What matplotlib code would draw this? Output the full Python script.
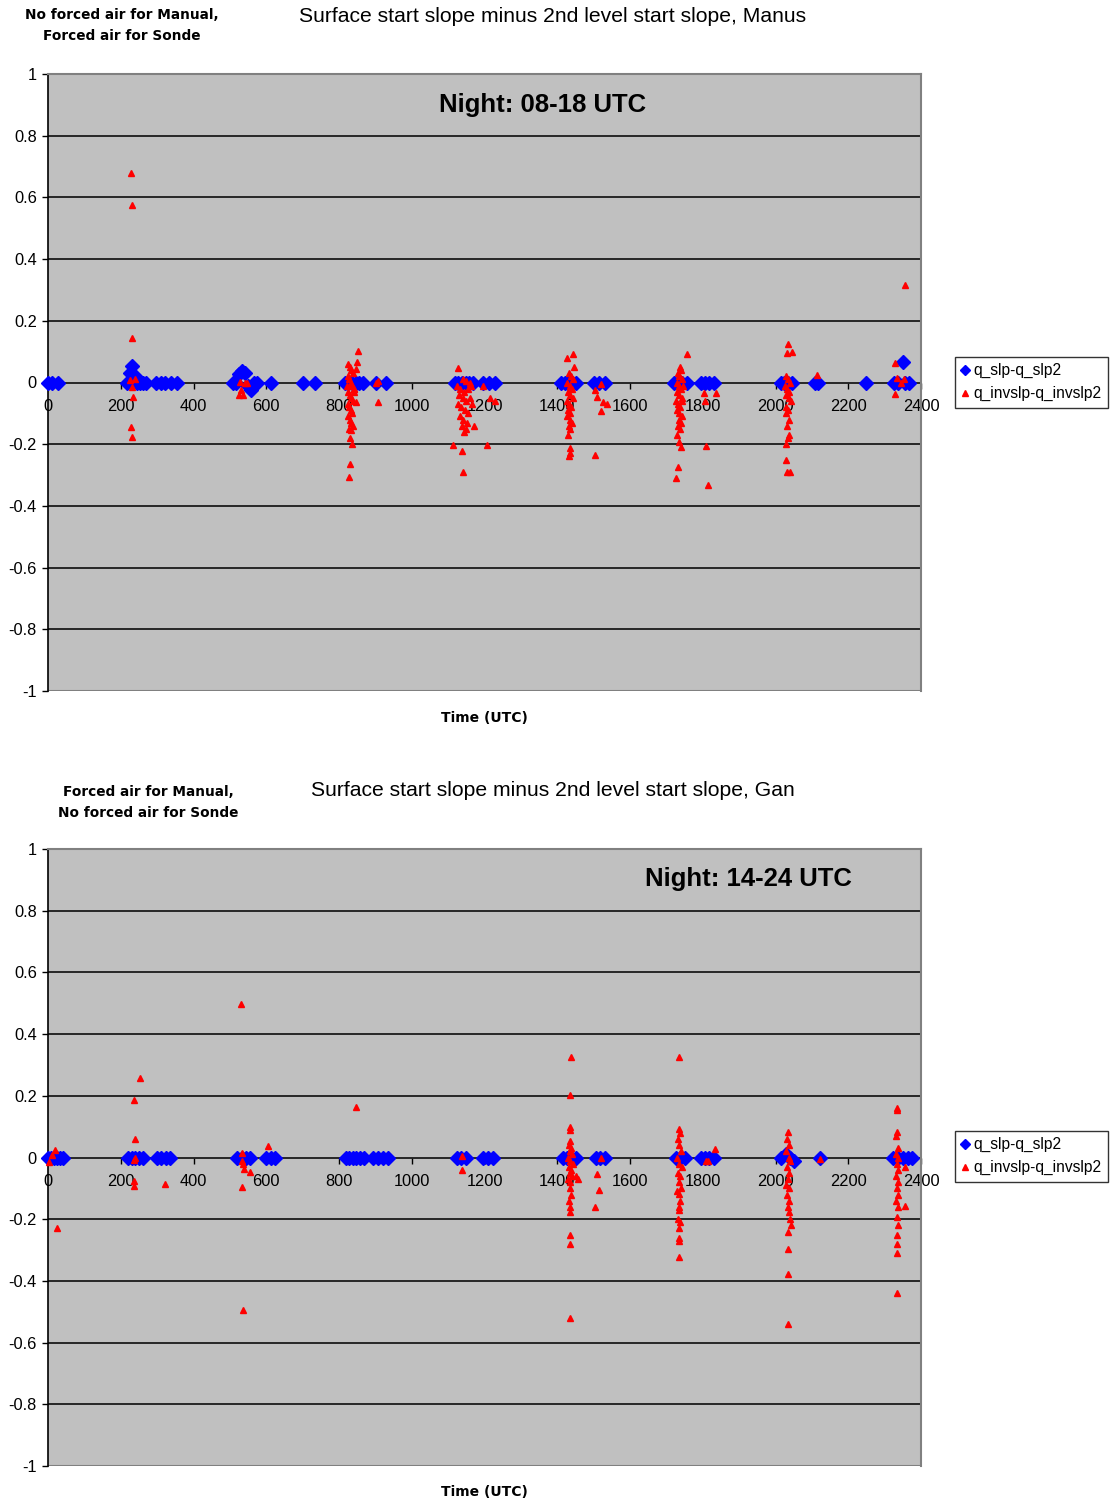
import numpy as np
import matplotlib
matplotlib.use("Agg")
import matplotlib.pyplot as plt
from matplotlib.lines import Line2D

plt.rcParams["font.family"] = ["Liberation Sans", "DejaVu Sans"]

# Manus: q_slp-q_slp2 (blue diamonds)
manus_slp_t = [0, 12, 28,
               218, 226, 232, 238, 246, 254, 262, 270,
               298, 312, 322, 338, 356,
               508, 518, 526, 534, 542, 550, 558, 566, 574,
               612, 700, 734,
               816, 826, 836, 846, 856, 866,
               902, 928,
               1118, 1128, 1138, 1148, 1158, 1168,
               1196, 1212, 1228,
               1410, 1420, 1430, 1440, 1452,
               1500, 1514, 1530,
               1722, 1732, 1744, 1758,
               1796, 1806, 1818, 1832,
               2014, 2024, 2034, 2046,
               2108, 2116, 2250,
               2326, 2338, 2350, 2356, 2368]
manus_slp_v = [0.0, 0.0, 0.0,
               0.0, 0.03, 0.054, 0.02, 0.0, 0.0, 0.0, 0.0,
               0.0, 0.0, 0.0, 0.0, 0.0,
               0.0, 0.0, 0.027, 0.038, 0.03, -0.01, -0.025, 0.0, 0.0,
               0.0, 0.0, 0.0,
               0.0, 0.0, 0.0, 0.0, 0.0, 0.0,
               0.0, 0.0,
               0.0, 0.0, 0.0, 0.0, 0.0, 0.0,
               0.0, 0.0, 0.0,
               0.0, 0.0, 0.0, 0.0, 0.0,
               0.0, 0.0, 0.0,
               0.0, 0.0, 0.0, 0.0,
               0.0, 0.0, 0.0, 0.0,
               0.0, 0.0, 0.0, 0.0,
               0.0, 0.0, 0.0,
               0.0, 0.0, 0.066, 0.0, 0.0]

# Manus: q_invslp-q_invslp2 (red triangles)
manus_inv_t = [228, 230, 232, 226, 240, 231, 233, 229, 231,
               528, 541, 530, 526, 536, 548,
               852, 850, 846, 826, 830, 834, 838, 824, 828, 832, 836, 840,
               822, 826, 830, 834, 838, 842, 824, 828, 832, 836, 840,
               826, 830, 834, 838, 828, 832, 848, 835, 829, 827, 829,
               903, 908, 906,
               1128, 1140, 1150, 1160, 1124, 1134, 1144, 1154, 1164,
               1130, 1140, 1150, 1160, 1126, 1136, 1146, 1156, 1166,
               1132, 1142, 1152, 1138, 1148, 1144, 1170, 1114, 1137, 1140,
               1195, 1206, 1215, 1228,
               1442, 1427, 1446, 1432, 1438, 1444, 1428, 1434, 1440,
               1430, 1436, 1442, 1426, 1432, 1438, 1430, 1436, 1428, 1434,
               1440, 1432, 1436, 1430, 1434, 1432, 1436,
               1503, 1508, 1527, 1536, 1519, 1521, 1504,
               1737, 1757, 1740, 1732, 1736, 1742, 1728, 1734, 1740, 1746,
               1730, 1736, 1742, 1726, 1732, 1738, 1744, 1730, 1736, 1742,
               1734, 1740, 1732, 1738, 1730, 1736, 1740, 1733, 1726,
               1803, 1836, 1808, 1815, 1806,
               2035, 2031, 2046, 2028, 2034, 2040, 2026, 2032, 2038,
               2030, 2036, 2042, 2028, 2034, 2030, 2036, 2032, 2038,
               2030, 2034, 2029, 2031, 2040,
               2113,
               2328, 2334, 2345, 2328, 2352, 2356]
manus_inv_v = [0.679, 0.574, 0.143, 0.008, 0.01, -0.013, -0.047, -0.143, -0.176,
               0.003, -0.002, -0.024, -0.04, -0.042, 0.0,
               0.103, 0.067, 0.045, 0.06, 0.05, 0.04, 0.03, 0.02, 0.01, 0.0, -0.01, -0.02,
               -0.01, -0.03, -0.04, -0.05, -0.06, -0.03, -0.07, -0.08, -0.09, -0.1, -0.02,
               -0.11, -0.12, -0.13, -0.14, -0.15, -0.155, -0.062, -0.2, -0.264, -0.305, -0.18,
               0.0, 0.005, -0.062,
               0.047, 0.01, 0.005, 0.0, -0.01, -0.02, -0.03, -0.02, -0.01,
               -0.04, -0.05, -0.06, -0.05, -0.07, -0.08, -0.09, -0.1, -0.07,
               -0.11, -0.12, -0.13, -0.14, -0.15, -0.16, -0.14, -0.203, -0.221, -0.289,
               -0.01, -0.203, -0.05, -0.06,
               0.091, 0.078, 0.05, 0.03, 0.02, 0.01, 0.0, -0.01, -0.02,
               -0.03, -0.04, -0.05, -0.06, -0.07, -0.08, -0.09, -0.1, -0.11, -0.12,
               -0.13, -0.14, -0.15, -0.17, -0.213, -0.238, -0.23,
               -0.024, -0.046, -0.062, -0.07, -0.091, -0.005, -0.235,
               0.051, 0.091, 0.04, 0.03, 0.02, 0.01, 0.0, -0.01, -0.02, -0.01,
               -0.03, -0.04, -0.05, -0.06, -0.07, -0.08, -0.06, -0.09, -0.1, -0.11,
               -0.12, -0.13, -0.14, -0.15, -0.17, -0.192, -0.21, -0.273, -0.311,
               -0.035, -0.033, -0.206, -0.332, -0.06,
               0.125, 0.095, 0.098, 0.02, 0.01, 0.0, -0.01, -0.02, -0.03,
               -0.04, -0.05, -0.06, -0.08, -0.09, -0.1, -0.12, -0.14, -0.17,
               -0.2, -0.18, -0.251, -0.289, -0.289,
               0.024,
               0.062, 0.014, 0.0, -0.037, 0.01, 0.316]

# Gan: q_slp-q_slp2
gan_slp_t = [0, 8, 16, 24, 32, 42,
             220, 230, 240, 250, 260,
             300, 312, 324, 336,
             520, 532, 544, 556,
             600, 612, 624,
             818, 828, 838, 848, 858, 868,
             894, 908, 922, 936,
             1124, 1136, 1148,
             1196, 1210, 1224,
             1416, 1426, 1438, 1452,
             1506, 1518, 1530,
             1726, 1738, 1750,
             1794, 1806, 1818, 1830,
             2016, 2028, 2040, 2050,
             2122,
             2322, 2336, 2350, 2364, 2376]
gan_slp_v = [0.0, 0.0, 0.0, 0.0, 0.0, 0.0,
             0.0, 0.0, 0.0, 0.0, 0.0,
             0.0, 0.0, 0.0, 0.0,
             0.0, 0.0, 0.0, 0.0,
             0.0, 0.0, 0.0,
             0.0, 0.0, 0.0, 0.0, 0.0, 0.0,
             0.0, 0.0, 0.0, 0.0,
             0.0, 0.0, 0.0,
             0.0, 0.0, 0.0,
             0.0, 0.0, 0.0, 0.0,
             0.0, 0.0, 0.0,
             0.0, 0.0, 0.0,
             0.0, 0.0, 0.0, 0.0,
             0.0, 0.01, 0.0, -0.01,
             0.0,
             0.0, 0.0, 0.0, 0.0, 0.0]

# Gan: q_invslp-q_invslp2
gan_inv_t = [19, 12, 4, 24,
             253, 236, 239, 236, 239, 236, 237,
             322,
             530, 532, 533, 535, 538, 555, 534, 606, 537,
             846,
             1137, 1137,
             1439, 1435, 1435, 1434, 1436, 1432, 1438, 1434, 1440,
             1430, 1436, 1442, 1432, 1438, 1434, 1440, 1430, 1436, 1434, 1438,
             1432, 1436, 1434, 1458, 1452, 1435, 1435, 1436,
             1508, 1515, 1504, 1520,
             1735, 1734, 1738, 1732, 1736, 1740, 1730, 1736, 1742, 1732, 1738,
             1734, 1740, 1730, 1736, 1738, 1734, 1736, 1732, 1738, 1734, 1736,
             1735, 1736,
             1833, 1810, 1815,
             2035, 2032, 2038, 2030, 2036, 2040, 2032, 2038, 2034, 2030, 2036,
             2032, 2038, 2034, 2036, 2040, 2042, 2034, 2035, 2035, 2035,
             2122,
             2333, 2335, 2333, 2331, 2336, 2332, 2338, 2334, 2336, 2330, 2338,
             2334, 2336, 2332, 2338, 2356, 2356, 2334, 2336, 2333, 2335, 2334,
             2335]
gan_inv_v = [0.025, 0.008, -0.015, -0.228,
             0.258, 0.187, 0.06, -0.008, 0.0, -0.077, -0.094,
             -0.085,
             0.498, 0.014, -0.01, -0.02, -0.037, -0.047, -0.096, 0.036, -0.494,
             0.165,
             0.006, -0.04,
             0.327, 0.203, 0.098, 0.088, 0.055, 0.04, 0.03, 0.02, 0.01,
             0.0, -0.01, -0.02, -0.03, -0.04, -0.05, -0.06, -0.07, -0.08, -0.1, -0.12,
             -0.14, -0.16, -0.177, -0.069, -0.06, -0.25, -0.282, -0.52,
             -0.053, -0.105, -0.161, 0.0,
             0.327, 0.093, 0.08, 0.06, 0.04, 0.02, 0.0, -0.02, -0.03, -0.05, -0.06,
             -0.08, -0.1, -0.11, -0.118, -0.14, -0.16, -0.17, -0.2, -0.21, -0.23, -0.26,
             -0.27, -0.321,
             0.028, -0.01, -0.012,
             0.082, 0.06, 0.04, 0.02, 0.0, -0.01, -0.03, -0.05, -0.07, -0.09, -0.1,
             -0.12, -0.14, -0.16, -0.177, -0.2, -0.22, -0.24, -0.296, -0.377, -0.539,
             -0.004,
             0.155, 0.162, 0.082, 0.07, 0.03, 0.01, 0.0, -0.02, -0.04, -0.06, -0.08,
             -0.1, -0.12, -0.14, -0.16, -0.156, -0.03, -0.193, -0.22, -0.25, -0.28, -0.31,
             -0.44]

y_ticks = [-1, -0.8, -0.6, -0.4, -0.2, 0, 0.2, 0.4, 0.6, 0.8, 1]
y_labels = ["-1", "-0.8", "-0.6", "-0.4", "-0.2", "0", "0.2", "0.4", "0.6", "0.8", "1"]
x_ticks = [0, 200, 400, 600, 800, 1000, 1200, 1400, 1600, 1800, 2000, 2200, 2400]

W, H = 1112, 1504
BLUE = "#0000ff"
RED = "#ff0000"
GREY = "#808080"
WIDE_BOLD = ["DejaVu Sans"]


def px(x, y):
    return x / W, 1 - y / H


def draw_panel(fig, top, t_slp, v_slp, t_inv, v_inv):
    x0, y0 = px(48, top + 617)
    ax = fig.add_axes([x0, y0, 873 / W, 617 / H])
    ax.set_facecolor("#c0c0c0")
    ax.set_xlim(0, 2400)
    ax.set_ylim(-1, 1)

    for y in y_ticks[1:-1]:
        if y != 0:
            ax.axhline(y, color="#1a1a1a", lw=1.3, zorder=1)
    ax.axhline(-1, color=GREY, lw=1.5, zorder=1)

    ax.plot(t_slp, v_slp, ls="none", marker="D", ms=7.4, color=BLUE,
            mec=BLUE, zorder=3, clip_on=False)
    ax.plot(t_inv, v_inv, ls="none", marker="^", ms=4.6, color=RED,
            mec=RED, zorder=4, clip_on=False)

    ax.spines["bottom"].set_position(("data", 0))
    ax.spines["bottom"].set_color("#1a1a1a")
    ax.spines["bottom"].set_linewidth(1.3)
    ax.spines["bottom"].set_zorder(2)
    ax.spines["left"].set_color("black")
    ax.spines["left"].set_linewidth(1.2)
    ax.spines["top"].set_color(GREY)
    ax.spines["top"].set_linewidth(1.5)
    ax.spines["right"].set_color(GREY)
    ax.spines["right"].set_linewidth(1.5)

    ax.set_xticks(x_ticks)
    ax.set_xticklabels([str(v) for v in x_ticks])
    ax.set_yticks(y_ticks)
    ax.set_yticklabels(y_labels)
    ax.tick_params(axis="x", direction="out", length=4, width=1,
                   labelsize=11.8, pad=8, colors="black")
    ax.tick_params(axis="y", direction="out", length=4, width=1,
                   labelsize=11.8, pad=4, colors="black")
    for lab in ax.get_xticklabels():
        lab.set_zorder(5)
    return ax


fig = plt.figure(figsize=(W / 100, H / 100), dpi=100)

draw_panel(fig, 74, manus_slp_t, manus_slp_v, manus_inv_t, manus_inv_v)
draw_panel(fig, 849, gan_slp_t, gan_slp_v, gan_inv_t, gan_inv_v)

fig.text(*px(553, 16), "Surface start slope minus 2nd level start slope, Manus",
         ha="center", va="center", fontsize=15.2)
fig.text(*px(122, 15), "No forced air for Manual,", ha="center", va="center",
         fontsize=9.8, fontweight="bold", family=WIDE_BOLD)
fig.text(*px(122, 36), "Forced air for Sonde", ha="center", va="center",
         fontsize=9.8, fontweight="bold", family=WIDE_BOLD)
fig.text(*px(543, 105), "Night: 08-18 UTC", ha="center", va="center",
         fontsize=18.5, fontweight="bold")
fig.text(*px(484, 718), "Time (UTC)", ha="center", va="center",
         fontsize=10, fontweight="bold", family=WIDE_BOLD)

fig.text(*px(553, 790), "Surface start slope minus 2nd level start slope, Gan",
         ha="center", va="center", fontsize=15.2)
fig.text(*px(148, 792), "Forced air for Manual,", ha="center", va="center",
         fontsize=9.8, fontweight="bold", family=WIDE_BOLD)
fig.text(*px(148, 813), "No forced air for Sonde", ha="center", va="center",
         fontsize=9.8, fontweight="bold", family=WIDE_BOLD)
fig.text(*px(748, 879), "Night: 14-24 UTC", ha="center", va="center",
         fontsize=18.5, fontweight="bold")
fig.text(*px(484, 1492), "Time (UTC)", ha="center", va="center",
         fontsize=10, fontweight="bold", family=WIDE_BOLD)

handles = [
    Line2D([], [], ls="none", marker="D", ms=5.5, color=BLUE, label="q_slp-q_slp2"),
    Line2D([], [], ls="none", marker="^", ms=4.2, color=RED, label="q_invslp-q_invslp2"),
]
for top in (357, 1131):
    leg = fig.legend(handles=handles, loc="upper left", bbox_to_anchor=px(955, top),
                     frameon=True, fancybox=False, borderaxespad=0, fontsize=11.2,
                     handlelength=0.5, handletextpad=0.3, borderpad=0.4,
                     labelspacing=0.5)
    leg.get_frame().set_edgecolor("black")
    leg.get_frame().set_linewidth(1.0)

fig.savefig("out.png", dpi=100)
